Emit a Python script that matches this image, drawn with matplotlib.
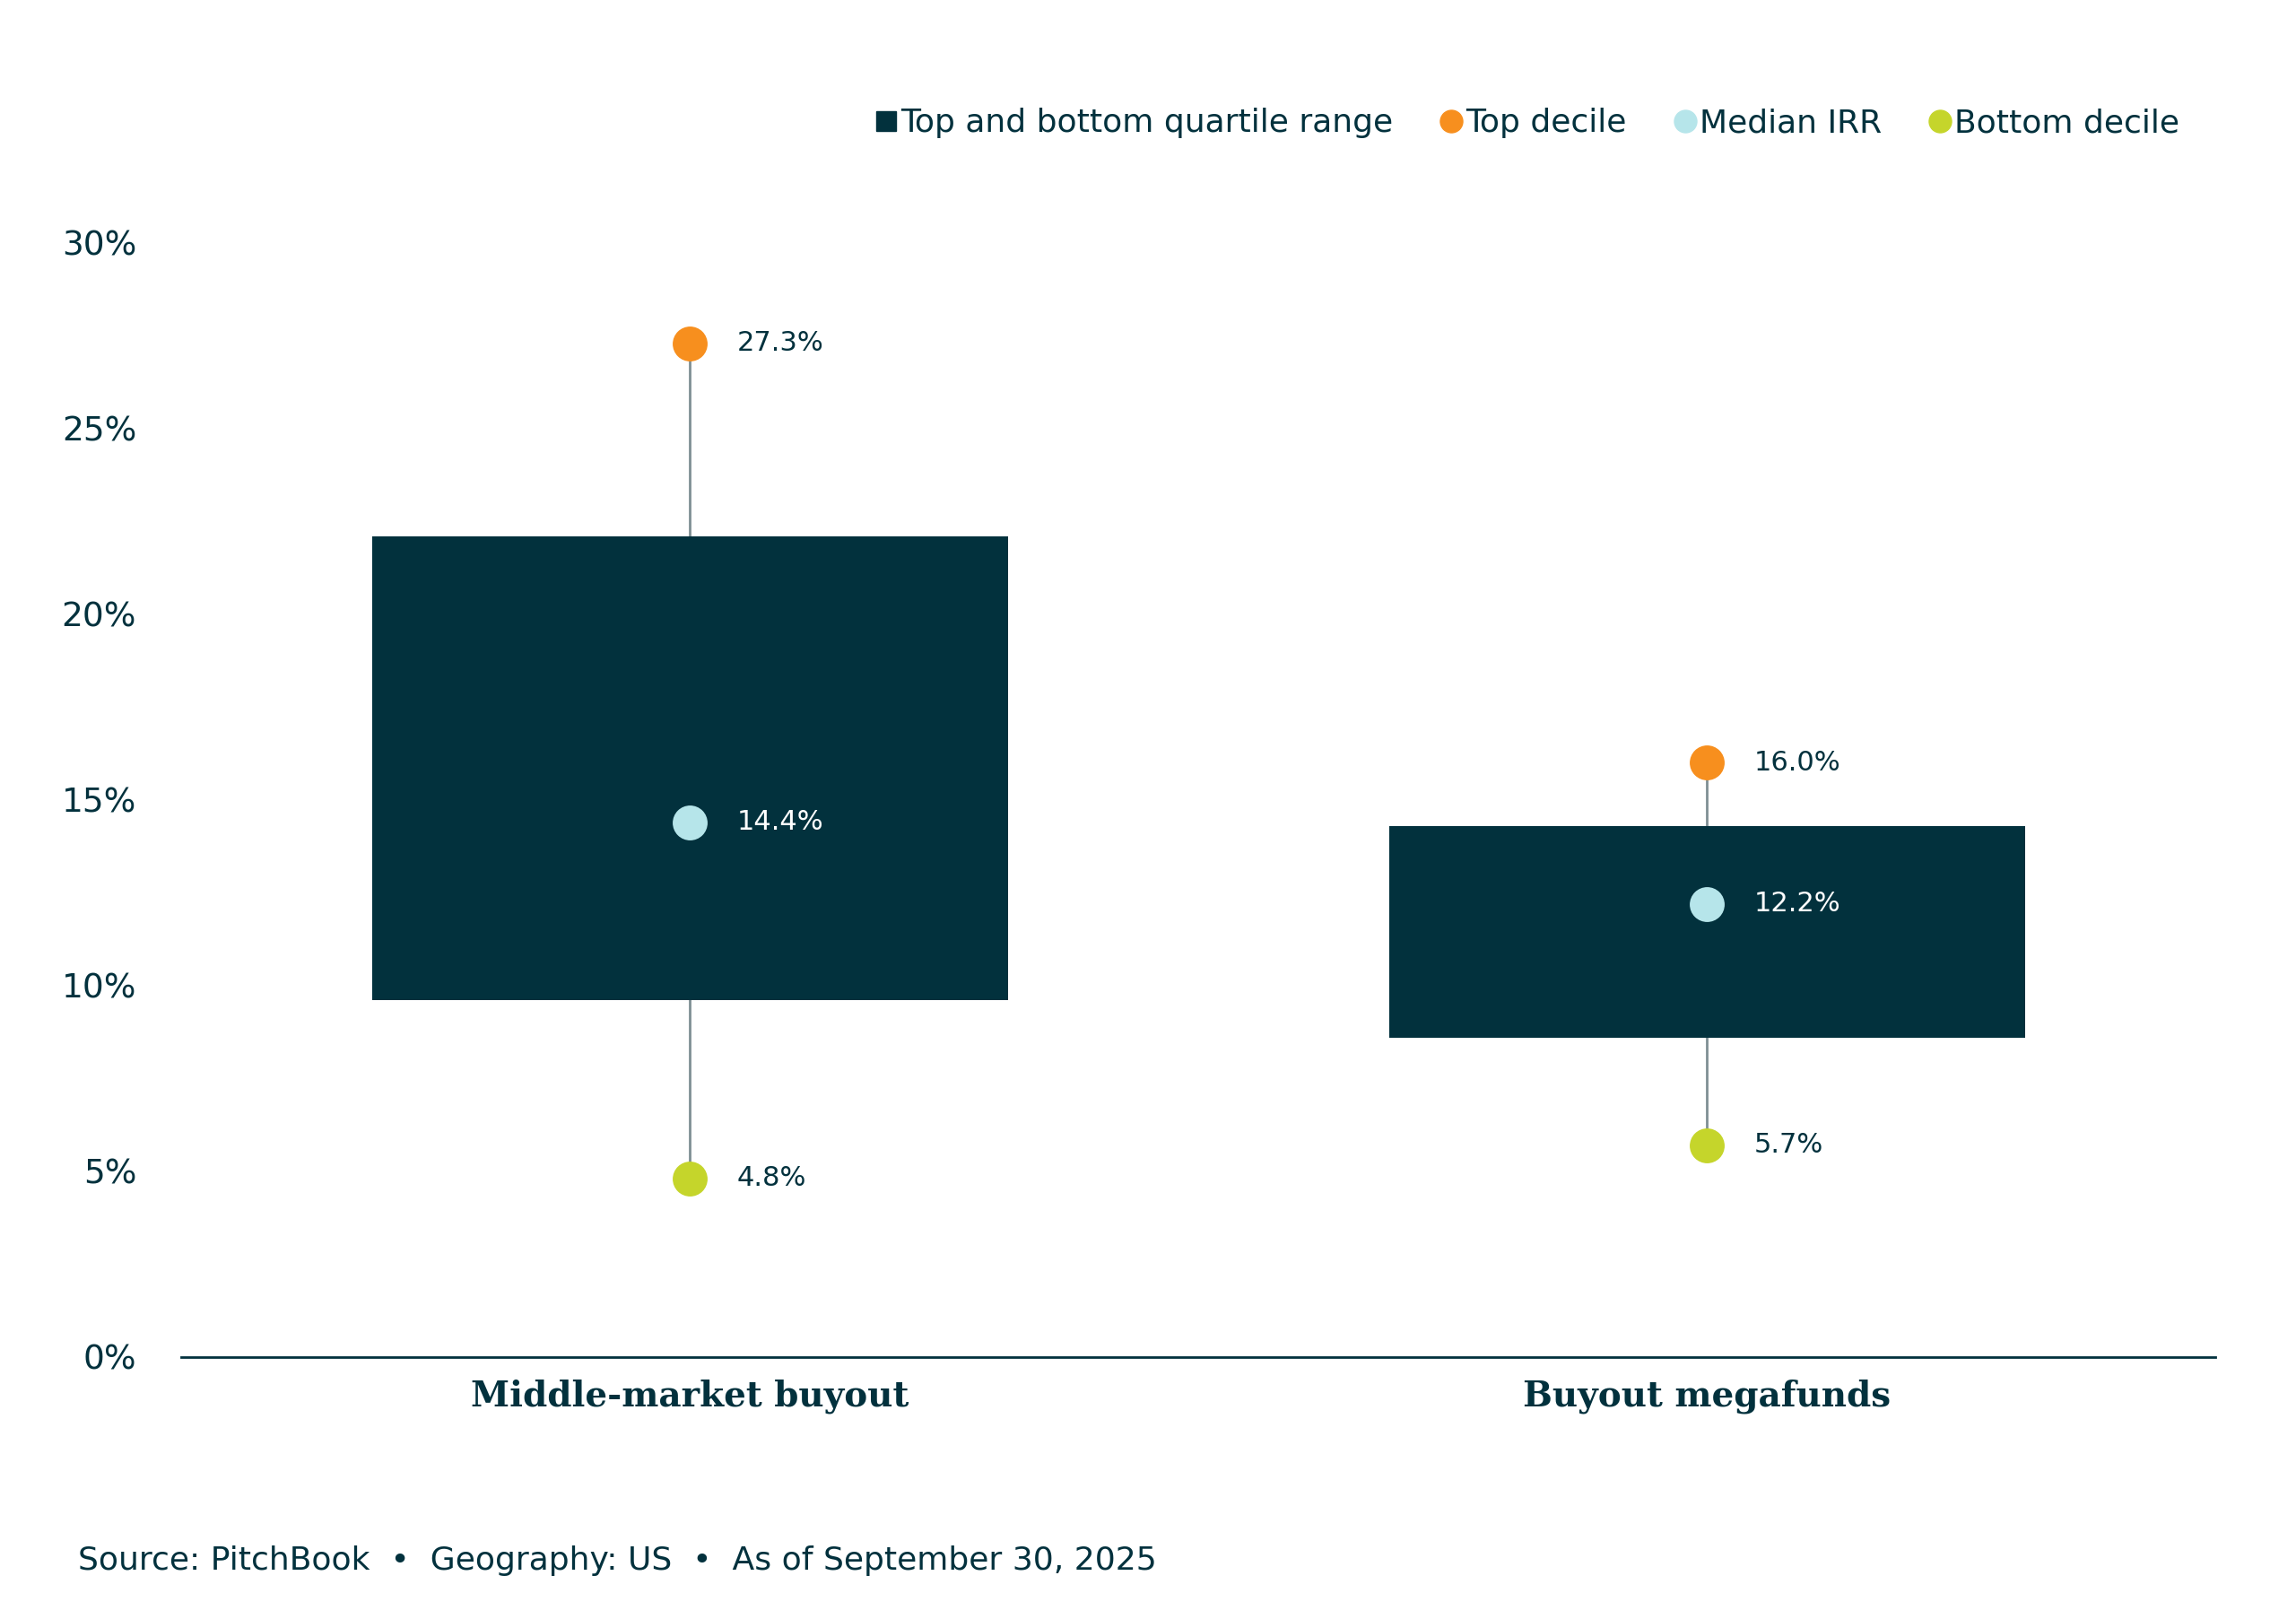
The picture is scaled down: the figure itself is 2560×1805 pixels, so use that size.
import matplotlib
matplotlib.use("Agg")
import matplotlib.pyplot as plt
from matplotlib.lines import Line2D

categories = ["Middle-market buyout", "Buyout megafunds"]
top_decile = [27.3, 16.0]
top_quartile = [22.1, 14.3]
median_irr = [14.4, 12.2]
bottom_quartile = [9.6, 8.6]
bottom_decile = [4.8, 5.7]

DARK = "#02313d"; ORANGE = "#f78f1e"; CYAN = "#b6e5ea"; LIME = "#c5d52b"; GRAY = "#7f8f94"

fig = plt.figure(figsize=(25.6, 18.05), dpi=100)
ax = fig.add_axes([0.079, 0.162, 0.886, 0.688])
x = list(range(len(categories)))
for i in x:
    ax.plot([i, i], [bottom_decile[i], top_decile[i]], color=GRAY, lw=2, zorder=1)
ax.bar(x, [t - b for t, b in zip(top_quartile, bottom_quartile)], bottom=bottom_quartile,
       width=0.625, color=DARK, zorder=2)
for vals, col, tc in [(top_decile, ORANGE, DARK), (median_irr, CYAN, "white"), (bottom_decile, LIME, DARK)]:
    ax.plot(x, vals, "o", color=col, ms=28, zorder=3, mec="none")
    for i, v in zip(x, vals):
        ax.annotate(f"{v:.1f}%", (i, v), xytext=(38, 0), textcoords="offset points",
                    va="center", ha="left", fontsize=22, color=tc, zorder=4)
ax.set_xlim(-0.5, 1.5); ax.set_ylim(0, 30)
ax.set_yticks(range(0, 31, 5)); ax.set_yticklabels([f"{v}%" for v in range(0, 31, 5)])
ax.set_xticks(x); ax.set_xticklabels(categories, fontfamily="DejaVu Serif", fontweight="bold", fontsize=28, color=DARK)
ax.tick_params(axis="y", length=0, labelsize=27, labelcolor=DARK, pad=36)
ax.tick_params(axis="x", length=0, pad=18)
for s in ["top", "right", "left"]:
    ax.spines[s].set_visible(False)
ax.spines["bottom"].set_color(DARK); ax.spines["bottom"].set_linewidth(2)

handles = [Line2D([], [], marker="s", ls="none", color=DARK, ms=16),
           Line2D([], [], marker="o", ls="none", color=ORANGE, ms=18),
           Line2D([], [], marker="o", ls="none", color=CYAN, ms=18),
           Line2D([], [], marker="o", ls="none", color=LIME, ms=18)]
fig.legend(handles, ["Top and bottom quartile range", "Top decile", "Median IRR", "Bottom decile"],
           loc="center right", bbox_to_anchor=(0.962, 0.924), ncol=4, frameon=False,
           fontsize=26, handletextpad=0.05, columnspacing=1.4, labelcolor=DARK, handlelength=0.8)
fig.text(0.034, 0.036, "Source: PitchBook  •  Geography: US  •  As of September 30, 2025",
         fontsize=26, color=DARK, va="center")
fig.savefig("out.png", dpi=100, facecolor="white")
